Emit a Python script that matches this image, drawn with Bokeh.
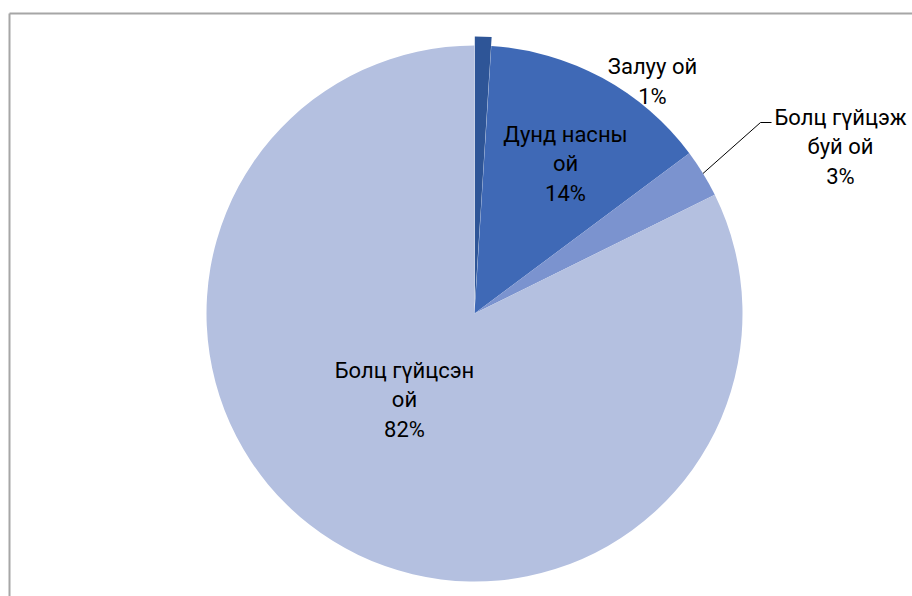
import math
from bokeh.plotting import figure
from bokeh.models import Range1d
from bokeh.core.properties import value
from bokeh.embed import file_html
from bokeh.resources import INLINE

# ---- data ----
categories = ["Залуу ой", "Дунд насны ой", "Болц гүйцэж буй ой", "Болц гүйцсэн ой"]
label_lines = ["Залуу ой", "Дунд насны\nой", "Болц гүйцэж\nбуй ой", "Болц гүйцсэн\nой"]
values = [1.0, 13.8, 2.9, 82.3]
colors = ["#2E5597", "#3F69B6", "#7B93CF", "#B4C0E0"]

W, H = 912, 596
def X(px):  # window px -> data x
    return px
def Y(py):  # window py -> data y
    return H - py

p = figure(width=W, height=H, output_backend="svg", toolbar_location=None,
           x_range=Range1d(0, W), y_range=Range1d(0, H),
           min_border=0, match_aspect=False)
p.axis.visible = False
p.grid.visible = False
p.outline_line_color = None
p.background_fill_color = "white"
p.border_fill_color = "white"

# chart frame (top and left edges visible)
p.segment(x0=[X(9), X(9)], y0=[Y(13), Y(13)], x1=[W, X(9)], y1=[Y(13), 0],
          line_color="#A6A6A6", line_width=2)

cx, cy, R = X(474), Y(313), 268
explode = [9, 0, 0, 0]
total = sum(values)
cum = 0.0
mids = []
for v, c, e in zip(values, colors, explode):
    a0 = cum / total * 2 * math.pi
    cum += v
    a1 = cum / total * 2 * math.pi
    mid = (a0 + a1) / 2
    mids.append(mid)
    ox = e * math.sin(mid)
    oy = e * math.cos(mid)
    p.wedge(x=[cx + ox], y=[cy + oy], radius=R,
            start_angle=math.pi / 2 - a0, end_angle=math.pi / 2 - a1,
            direction="clock", fill_color=c, line_color=None)

# labels
pcts = [f"{round(v / total * 100)}%" for v in values]
texts = [f"{l}\n{pc}" for l, pc in zip(label_lines, pcts)]
label_pos = [(652, 81), (565, 163), (840, 146), (404, 399)]
p.text(x=[X(a) for a, b in label_pos], y=[Y(b) for a, b in label_pos], text=texts,
       text_align="center", text_baseline="middle",
       text_font=value("Roboto"), text_font_size="22px",
       text_line_height=1.18, text_color="#000000")

# leader line for the small slice
m = mids[2]
sx, sy = cx + R * math.sin(m), cy + R * math.cos(m)
p.line(x=[sx, X(760), X(771)], y=[sy, Y(122), Y(122)], line_color="black", line_width=1)

open("out.html", "w").write(file_html(p, INLINE))
